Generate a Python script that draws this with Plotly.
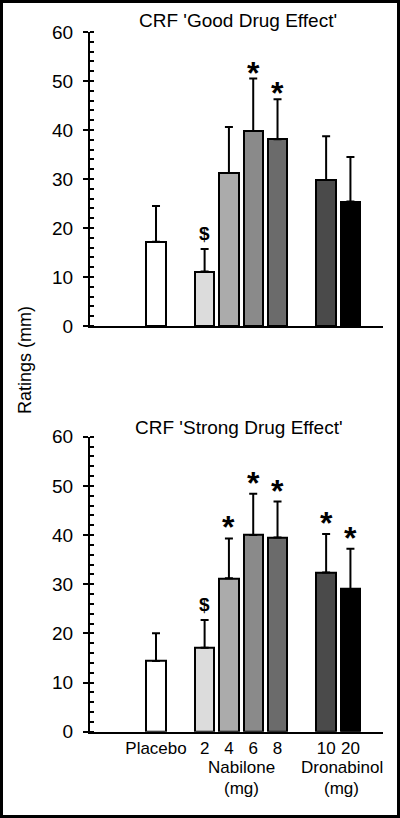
import plotly.graph_objects as go

# ---- data ----
groups = ["Placebo", "Nabilone 2", "Nabilone 4", "Nabilone 6", "Nabilone 8", "Dronabinol 10", "Dronabinol 20"]
tick_labels = ["Placebo", "2", "4", "6", "8", "10", "20"]
x_pos = [0, 2, 3, 4, 5, 7, 8]

good_mean = [17.2, 11.1, 31.2, 39.8, 38.1, 29.8, 25.4]
good_sem = [7.3, 4.6, 9.4, 10.7, 8.2, 8.9, 9.1]
good_marks = ["", "$", "", "*", "*", "", ""]

strong_mean = [14.4, 17.1, 31.2, 40.0, 39.5, 32.4, 29.0]
strong_sem = [5.6, 5.6, 8.1, 8.4, 7.3, 7.8, 8.2]
strong_marks = ["", "$", "*", "*", "*", "*", "*"]

bar_colors = ["#ffffff", "#dcdcdc", "#ababab", "#8a8a8a", "#6b6b6b", "#4a4a4a", "#000000"]

FONT = "Liberation Sans, Arial, sans-serif"
H = 818.0
W = 400.0

fig = go.Figure()

for mean, sem, xa, ya in [(good_mean, good_sem, "x", "y"), (strong_mean, strong_sem, "x2", "y2")]:
    fig.add_trace(go.Bar(
        x=x_pos, y=mean, width=0.8, xaxis=xa, yaxis=ya,
        marker=dict(color=bar_colors, line=dict(color="black", width=2)),
        error_y=dict(type="data", symmetric=False, array=sem,
                     arrayminus=[0] * len(sem), color="black", thickness=2, width=4),
        showlegend=False, hoverinfo="skip",
    ))

xrange = [-2.716, 9.34]
xdom = [90 / W, 383 / W]
top_dom = [1 - 326 / H, 1 - 32 / H]
bot_dom = [1 - 731.7 / H, 1 - 436.7 / H]

yaxis_common = dict(
    range=[0, 60], dtick=10, showline=True, linecolor="black", linewidth=2,
    ticks="outside", ticklen=5, tickwidth=2, tickcolor="black",
    minor=dict(dtick=2, ticks="inside", ticklen=4, tickwidth=1.5, tickcolor="black"),
    showgrid=False, zeroline=False, ticklabelstandoff=6, automargin=False,
    tickfont=dict(family=FONT, size=19, color="black"),
)
xaxis_common = dict(
    range=xrange, domain=xdom, showline=True, linecolor="black", linewidth=2,
    ticks="", showgrid=False, zeroline=False, automargin=False,
)

fig.update_layout(
    width=400, height=818,
    margin=dict(l=0, r=0, t=0, b=0, pad=0, autoexpand=False),
    paper_bgcolor="white", plot_bgcolor="white",
    bargap=0,
    xaxis=dict(**xaxis_common, anchor="y", showticklabels=False),
    yaxis=dict(**yaxis_common, domain=top_dom, anchor="x"),
    xaxis2=dict(**xaxis_common, anchor="y2", tickvals=x_pos, ticktext=tick_labels,
                tickfont=dict(family=FONT, size=17, color="black")),
    yaxis2=dict(**yaxis_common, domain=bot_dom, anchor="x2"),
)

annotations = []
for mean, sem, marks, xa, ya, star_shift in [
    (good_mean, good_sem, good_marks, "x", "y", -14),
    (strong_mean, strong_sem, strong_marks, "x2", "y2", -9),
]:
    for xp, m, s, mk in zip(x_pos, mean, sem, marks):
        if not mk:
            continue
        if mk == "*":
            annotations.append(dict(x=xp, y=m + s, xref=xa, yref=ya, text="<b>*</b>", showarrow=False,
                                    yanchor="bottom", yshift=star_shift,
                                    font=dict(family=FONT, size=32, color="black")))
        else:
            annotations.append(dict(x=xp, y=m + s, xref=xa, yref=ya, text="<b>$</b>", showarrow=False,
                                    yanchor="bottom", yshift=3,
                                    font=dict(family=FONT, size=19, color="black")))

annotations.append(dict(x=238 / W, y=1 - 20 / H, xref="paper", yref="paper",
                        text="CRF 'Good Drug Effect'", showarrow=False, yanchor="middle",
                        font=dict(family=FONT, size=19, color="black")))
annotations.append(dict(x=239 / W, y=1 - 427 / H, xref="paper", yref="paper",
                        text="CRF 'Strong Drug Effect'", showarrow=False, yanchor="middle",
                        font=dict(family=FONT, size=19, color="black")))
annotations.append(dict(x=25 / W, y=1 - 360 / H, xref="paper", yref="paper",
                        text="Ratings (mm)", textangle=-90, showarrow=False,
                        xanchor="center", yanchor="middle",
                        font=dict(family=FONT, size=18, color="black")))
for label, cx in [("Nabilone", 3.53), ("Dronabinol", 7.65)]:
    annotations.append(dict(x=cx, y=1 - 767 / H, xref="x2", yref="paper", text=label,
                            showarrow=False, yanchor="middle",
                            font=dict(family=FONT, size=17, color="black")))
    annotations.append(dict(x=cx, y=1 - 788 / H, xref="x2", yref="paper", text="(mg)",
                            showarrow=False, yanchor="middle",
                            font=dict(family=FONT, size=17, color="black")))

fig.update_layout(annotations=annotations)

fig.add_shape(type="rect", xref="paper", yref="paper", x0=0, y0=0, x1=1, y1=1,
              line=dict(color="black", width=6), fillcolor="rgba(0,0,0,0)")

fig.write_html("out.html", config={"displayModeBar": False},
               post_script="document.body.style.margin='0';document.body.style.overflow='hidden';")
